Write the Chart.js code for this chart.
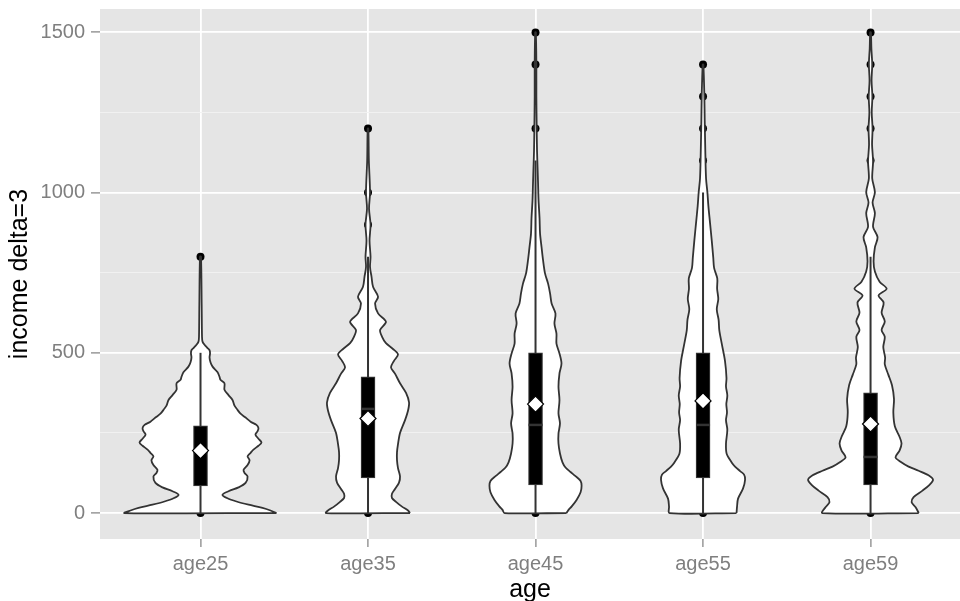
<!DOCTYPE html>
<html>
<head>
<meta charset="utf-8">
<script src="https://cdn.jsdelivr.net/npm/chart.js@4.4.0/dist/chart.umd.min.js"></script>
<style>
  html, body { margin: 0; padding: 0; background: #ffffff; overflow: hidden; }
  canvas { display: block; }
</style>
</head>
<body>
<canvas id="violinChart" width="960" height="601"></canvas>
<script>
// categories and axis ticks
const categories = ['age25', 'age35', 'age45', 'age55', 'age59'];
const yTicks = [0, 500, 1000, 1500];
const yMinorTicks = [250, 750, 1250];

// boxplot stats per group
const boxLow = [85, 110, 88, 110, 88];
const boxHigh = [272, 425, 500, 500, 375];
const medians = [190, 325, 275, 275, 175];
const means = [195, 295, 340, 350, 278];
const whiskerLow = [0, 0, 0, 0, 0];
const whiskerHigh = [500, 800, 1100, 1000, 800];

// single points (outliers + the min at 0)
const dots25 = [0, 800];
const dots35 = [0, 900, 1000, 1200];
const dots45 = [0, 1200, 1400, 1500];
const dots55 = [0, 1100, 1200, 1300, 1400];
const dots59 = [0, 1000, 1100, 1200, 1300, 1400, 1500];

// violin outlines: [income, half width of density in category units]
const violin25 = [[0, .454], [8, .418], [16, .370], [26, .287], [36, .215], [46, .161], [57, .131], [68, .167],
  [80, .227], [94, .269], [114, .281], [125, .263], [135, .257], [150, .281], [165, .293], [177, .281],
  [188, .299], [198, .316], [210, .346], [220, .364], [232, .346], [245, .328], [255, .340], [265, .346],
  [275, .334], [285, .299], [298, .269], [310, .239], [322, .221], [335, .203], [353, .191], [368, .167],
  [385, .143], [405, .143], [416, .119], [426, .113], [440, .101], [457, .072], [470, .060], [485, .054],
  [499, .057], [508, .054], [515, .042], [525, .024], [535, .012], [550, .009], [650, .007], [800, .003]];
const violin35 = [[0, .251], [8, .239], [20, .203], [35, .167], [47, .143], [60, .143], [75, .161], [95, .185],
  [115, .191], [140, .179], [165, .173], [190, .173], [215, .179], [250, .191], [290, .221], [320, .239],
  [345, .245], [375, .227], [405, .191], [435, .161], [455, .137], [475, .155], [495, .179], [512, .149],
  [530, .107], [550, .084], [571, .072], [597, .107], [623, .060], [654, .042], [675, .060], [706, .030],
  [737, .021], [768, .012], [800, .015], [850, .009], [900, .015], [950, .006], [1000, .012], [1100, .005],
  [1200, .002]];
const violin45 = [[0, .185], [10, .197], [20, .215], [41, .245], [65, .269], [85, .275], [100, .269], [115, .239],
  [128, .209], [142, .179], [158, .161], [186, .146], [217, .137], [248, .137], [280, .146], [311, .137],
  [353, .143], [394, .137], [436, .143], [467, .155], [498, .143], [529, .125], [560, .125], [591, .113],
  [623, .119], [654, .096], [685, .087], [716, .075], [747, .057], [789, .045], [830, .036], [872, .027],
  [920, .024], [976, .018], [1030, .015], [1080, .012], [1130, .009], [1200, .007], [1300, .005],
  [1400, .005], [1500, .002]];
const violin55 = [[0, .200], [20, .203], [45, .209], [77, .239], [104, .251], [120, .245], [131, .221], [145, .191],
  [158, .171], [185, .141], [217, .137], [260, .145], [290, .137], [314, .143], [340, .139], [367, .145],
  [395, .137], [421, .140], [475, .131], [528, .112], [571, .097], [603, .093], [636, .082], [668, .091],
  [700, .084], [732, .085], [765, .066], [797, .061], [850, .052], [904, .042], [958, .032], [1001, .026],
  [1044, .018], [1119, .014], [1226, .010], [1300, .008], [1400, .002]];
const violin59 = [[0, .288], [18, .269], [34, .245], [50, .257], [70, .310], [88, .352], [104, .373], [118, .346],
  [132, .287], [145, .227], [160, .179], [174, .149], [195, .173], [217, .185], [238, .173], [271, .145],
  [314, .136], [356, .140], [399, .128], [432, .106], [464, .085], [485, .087], [518, .076], [550, .085],
  [571, .066], [598, .085], [625, .066], [657, .078], [679, .048], [700, .096], [722, .054], [754, .026],
  [786, .018], [829, .026], [861, .042], [893, .015], [936, .026], [969, .012], [1001, .026], [1044, .010],
  [1097, .015], [1150, .009], [1200, .012], [1250, .007], [1300, .011], [1350, .006], [1400, .010],
  [1450, .005], [1500, .002]];

const violins = [violin25, violin35, violin45, violin55, violin59];
const dots = [dots25, dots35, dots45, dots55, dots59];

const FONT = '"Liberation Sans", Arial, Helvetica, sans-serif';
const OUTLINE = '#333333';

// closed outline: up the right side, down the left side, back to start
function violinPoints(pos, shape) {
  const right = shape.map(([v, w]) => ({ x: pos + w, y: v }));
  const left = shape.slice().reverse().map(([v, w]) => ({ x: pos - w, y: v }));
  return right.concat(left, [right[0]]);
}

const datasets = [];

// points sit under the violins
datasets.push({
  type: 'scatter',
  data: dots.flatMap((arr, i) => arr.map(v => ({ x: i + 1, y: v }))),
  pointRadius: 4,
  pointBackgroundColor: '#000000',
  pointBorderWidth: 0,
  order: 6
});

violins.forEach((shape, i) => {
  datasets.push({
    type: 'line',
    data: violinPoints(i + 1, shape),
    borderColor: OUTLINE,
    borderWidth: 1.8,
    borderJoinStyle: 'round',
    backgroundColor: '#ffffff',
    fill: 'shape',
    tension: 0.3,
    pointRadius: 0,
    order: 5
  });
});

categories.forEach((c, i) => {
  datasets.push({
    type: 'line',
    data: [{ x: i + 1, y: whiskerLow[i] }, { x: i + 1, y: whiskerHigh[i] }],
    borderColor: OUTLINE,
    borderWidth: 2,
    pointRadius: 0,
    fill: false,
    order: 4
  });
});

datasets.push({
  type: 'bar',
  data: categories.map((c, i) => ({ x: i + 1, y: [boxLow[i], boxHigh[i]] })),
  backgroundColor: '#000000',
  borderColor: OUTLINE,
  borderWidth: 1.2,
  borderSkipped: false,
  barThickness: 14,
  order: 3
});

datasets.push({
  type: 'scatter',
  data: medians.map((v, i) => ({ x: i + 1, y: v })),
  pointStyle: 'line',
  pointRadius: 7,
  pointBorderColor: OUTLINE,
  pointBorderWidth: 2.5,
  order: 2
});

datasets.push({
  type: 'scatter',
  data: means.map((v, i) => ({ x: i + 1, y: v })),
  pointStyle: 'rectRot',
  pointRadius: 8,
  pointBackgroundColor: '#ffffff',
  pointBorderColor: '#000000',
  pointBorderWidth: 1.2,
  order: 1
});

// grey panel behind the grid
const panelBg = {
  id: 'panelBg',
  beforeDraw(chart) {
    const { ctx, chartArea: a } = chart;
    ctx.save();
    ctx.fillStyle = '#e5e5e5';
    ctx.fillRect(a.left, a.top, a.right - a.left, a.bottom - a.top);
    ctx.restore();
  }
};

const isMajor = v => yTicks.includes(v);

new Chart(document.getElementById('violinChart'), {
  type: 'scatter',
  data: { datasets },
  plugins: [panelBg],
  options: {
    responsive: false,
    animation: false,
    events: [],
    layout: { autoPadding: false, padding: { top: 9, right: 0, bottom: 0, left: 0 } },
    plugins: { legend: { display: false }, tooltip: { enabled: false } },
    scales: {
      x: {
        type: 'linear',
        min: 0.4,
        max: 5.534,
        offset: false,
        bounds: 'data',
        afterBuildTicks: s => { s.ticks = categories.map((c, i) => ({ value: i + 1 })); },
        afterFit: s => { s.height = 62; s.paddingLeft = 0; s.paddingRight = 0; },
        ticks: {
          callback: v => categories[v - 1] || '',
          color: '#7f7f7f',
          font: { family: FONT, size: 20 },
          padding: 5,
          maxRotation: 0,
          autoSkip: false
        },
        grid: { color: '#ffffff', lineWidth: 1.8, tickColor: '#7f7f7f', tickLength: 8, tickWidth: 1.2, offset: false },
        border: { display: false },
        title: { display: true, text: 'age', color: '#000000', font: { family: FONT, size: 25, lineHeight: 0.9 }, padding: { top: 0, bottom: 0 } }
      },
      y: {
        type: 'linear',
        min: -81,
        max: 1573,
        bounds: 'data',
        afterBuildTicks: s => {
          s.ticks = yTicks.concat(yMinorTicks).sort((a, b) => a - b).map(v => ({ value: v }));
        },
        afterFit: s => { s.width = 100; s.paddingTop = 0; s.paddingBottom = 0; },
        ticks: {
          callback: v => (isMajor(v) ? String(v) : ''),
          color: '#7f7f7f',
          font: { family: FONT, size: 20 },
          padding: 6
        },
        grid: {
          color: c => (isMajor(c.tick.value) ? '#ffffff' : '#f2f2f2'),
          lineWidth: c => (isMajor(c.tick.value) ? 1.8 : 0.9),
          tickColor: c => (isMajor(c.tick.value) ? '#7f7f7f' : 'rgba(0,0,0,0)'),
          tickLength: 9,
          tickWidth: 1.2
        },
        border: { display: false },
        title: { display: true, text: 'income delta=3', color: '#000000', font: { family: FONT, size: 25 }, padding: { top: 5, bottom: 0 } }
      }
    }
  }
});
</script>
</body>
</html>
